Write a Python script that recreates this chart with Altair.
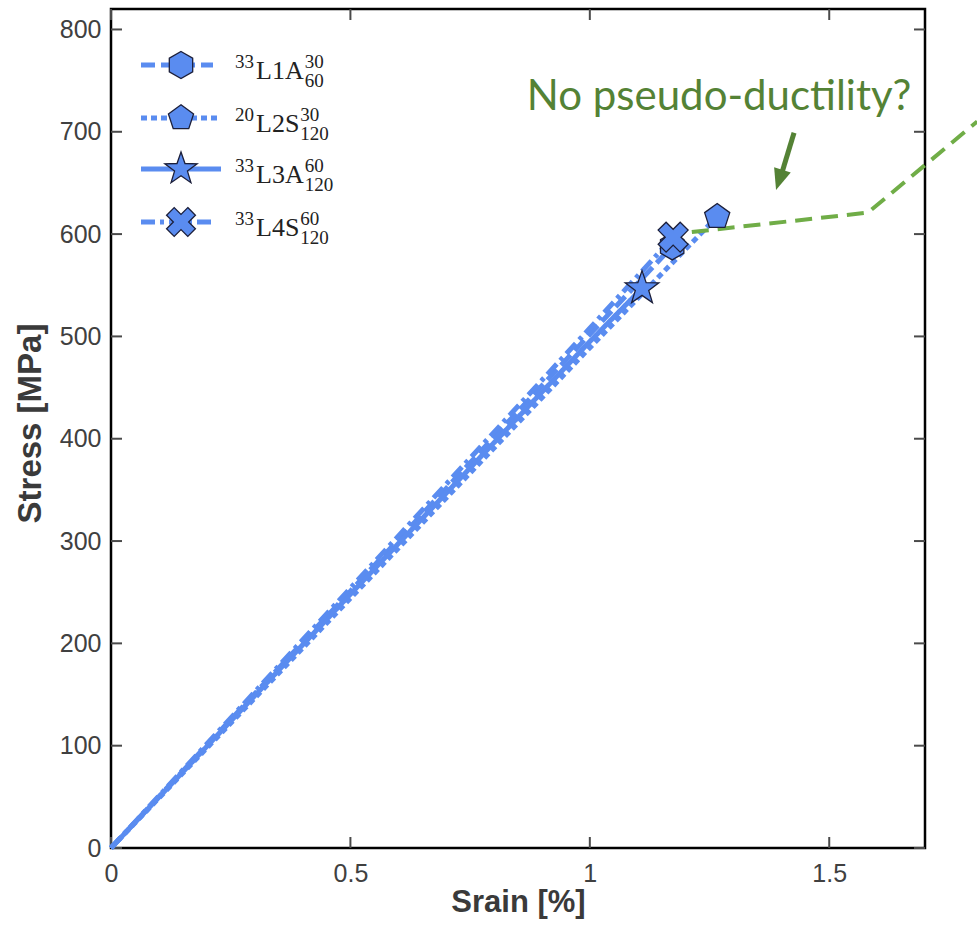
import math
import altair as alt
import pandas as pd

# ---- stress-strain traces (strain in %, stress in MPa) ----
names = ["L1A", "L2S", "L3A", "L4S"]
strain_L1A = [0.0, 0.5, 1.0, 1.172]
stress_L1A = [0, 251, 502, 588]
strain_L2S = [0.0, 0.5, 1.0, 1.266]
stress_L2S = [0, 244, 489, 617]
strain_L3A = [0.0, 0.5, 1.0, 1.109]
stress_L3A = [0, 248, 495, 547]
strain_L4S = [0.0, 0.5, 1.0, 1.174]
stress_L4S = [0, 254, 508, 597]

# legend label pieces: pre-superscript, body, superscript, subscript
label_pre = ["33", "20", "33", "33"]
label_body = ["L1A", "L2S", "L3A", "L4S"]
label_sup = ["30", "30", "60", "60"]
label_sub = ["60", "120", "120", "120"]

# expected pseudo-ductile response and its note
ductile_strain = [1.213, 1.581, 1.809]
ductile_stress = [602, 621, 710]
note_text = "No pseudo-ductility?"
note_strain = [1.27]
note_stress = [721]
arrow_strain = [1.4265, 1.3993]
arrow_stress = [699, 657]
arrow_tip_strain = [1.3889]
arrow_tip_stress = [643]

x_ticks = [0, 0.5, 1, 1.5]
y_ticks = [0, 100, 200, 300, 400, 500, 600, 700, 800]

W, H = 814, 839
BLUE = "#5a8cf0"
EDGE = "#1c1f3a"
GREEN_LINE = "#70ad47"
GREEN_TEXT = "#548235"
AXIS_TXT = "#404040"
SANS = "Liberation Sans"
SERIF = "Liberation Serif"


def poly_path(pts):
    return "M" + "L".join(f"{x:.4f},{y:.4f}" for x, y in pts) + "Z"


hexagon = poly_path([(math.sin(math.radians(a)), -math.cos(math.radians(a)))
                     for a in range(0, 360, 60)])
pentagon = poly_path([(math.sin(math.radians(a)), -math.cos(math.radians(a)))
                      for a in range(0, 360, 72)])
star = poly_path([((1.0 if k % 2 == 0 else 0.40) * math.sin(math.radians(36 * k)),
                   -(1.0 if k % 2 == 0 else 0.40) * math.cos(math.radians(36 * k)))
                  for k in range(10)])
w = 0.36
plus = [(-w, -1), (w, -1), (w, -w), (1, -w), (1, w), (w, w), (w, 1), (-w, 1),
        (-w, w), (-1, w), (-1, -w), (-w, -w)]
r2 = math.sqrt(0.5)
cross_x = poly_path([((x - y) * r2, (x + y) * r2) for x, y in plus])
arrow_head = "M0,0L-0.45,-1.1L0.45,-1.1Z"

series = [
    dict(name="L1A", sx=strain_L1A, sy=stress_L1A, dash=[14, 6], shape=hexagon, size=729, lsize=729),
    dict(name="L2S", sx=strain_L2S, sy=stress_L2S, dash=[6, 4], shape=pentagon, size=700, lsize=700),
    dict(name="L3A", sx=strain_L3A, sy=stress_L3A, dash=[1, 0], shape=star, size=1250, lsize=1150),
    dict(name="L4S", sx=strain_L4S, sy=stress_L4S, dash=[14, 5, 4, 5], shape=cross_x, size=970, lsize=900),
]

xs = alt.Scale(domain=[0, 1.7], nice=False, zero=False)
ys = alt.Scale(domain=[0, 820], nice=False)

x_enc = alt.X("strain:Q", scale=xs, axis=alt.Axis(
    values=x_ticks, format="~g", ticks=False, domain=False, grid=False,
    labelFont=SANS, labelFontSize=25, labelColor=AXIS_TXT, labelPadding=13,
    labelFlush=False, title="Srain [%]", titleFont=SANS, titleFontSize=31,
    titleFontWeight="bold", titleColor="#3a3a3a", titlePadding=1))
y_enc = alt.Y("stress:Q", scale=ys, axis=alt.Axis(
    values=y_ticks, ticks=False, domain=False, grid=False,
    labelFont=SANS, labelFontSize=25, labelColor=AXIS_TXT, labelPadding=10,
    labelFlush=False, title="Stress [MPa]", titleFont=SANS, titleFontSize=33,
    titleFontWeight="bold", titleColor="#3a3a3a", titlePadding=12, titleY=414))

layers = []

# inward tick marks on all four sides
ytick_df = pd.DataFrame({"stress": y_ticks})
xtick_df = pd.DataFrame({"strain": x_ticks})
tick_style = dict(color="#4a4a4a", strokeWidth=2)
layers.append(alt.Chart(ytick_df).mark_rule(**tick_style).encode(
    y=y_enc, x=alt.value(0), x2=alt.value(11)))
layers.append(alt.Chart(ytick_df).mark_rule(**tick_style).encode(
    y=y_enc, x=alt.value(W - 11), x2=alt.value(W)))
layers.append(alt.Chart(xtick_df).mark_rule(**tick_style).encode(
    x=x_enc, y=alt.value(H), y2=alt.value(H - 11)))
layers.append(alt.Chart(xtick_df).mark_rule(**tick_style).encode(
    x=x_enc, y=alt.value(0), y2=alt.value(11)))

# curves
for s in series:
    df = pd.DataFrame({"strain": s["sx"], "stress": s["sy"]})
    layers.append(alt.Chart(df).mark_line(
        color=BLUE, strokeWidth=5, strokeDash=s["dash"], strokeCap="butt").encode(
        x=x_enc, y=y_enc))

# expected pseudo-ductile continuation
duct_df = pd.DataFrame({"strain": ductile_strain, "stress": ductile_stress})
layers.append(alt.Chart(duct_df).mark_line(
    color=GREEN_LINE, strokeWidth=4, strokeDash=[17, 9], clip=False).encode(
    x=x_enc, y=y_enc))

# failure markers at the last point of each curve
for s in series:
    df = pd.DataFrame({"strain": [s["sx"][-1]], "stress": [s["sy"][-1]]})
    layers.append(alt.Chart(df).mark_point(
        shape=s["shape"], size=s["size"], filled=True, fill=BLUE, fillOpacity=1,
        stroke=EDGE, strokeWidth=1.3, opacity=1).encode(x=x_enc, y=y_enc))

# note and arrow
note_df = pd.DataFrame({"strain": note_strain, "stress": note_stress, "t": [note_text]})
layers.append(alt.Chart(note_df).mark_text(
    font="Lato", fontSize=42, color=GREEN_TEXT, align="center",
    baseline="alphabetic").encode(x=x_enc, y=y_enc, text="t:N"))
arrow_df = pd.DataFrame({"strain": [arrow_strain[0]], "stress": [arrow_stress[0]],
                         "strain2": [arrow_strain[1]], "stress2": [arrow_stress[1]]})
layers.append(alt.Chart(arrow_df).mark_rule(
    color=GREEN_TEXT, strokeWidth=5, strokeCap="butt").encode(
    x=x_enc, y=y_enc, x2="strain2:Q", y2="stress2:Q"))
tip_df = pd.DataFrame({"strain": arrow_tip_strain, "stress": arrow_tip_stress})
layers.append(alt.Chart(tip_df).mark_point(
    shape=arrow_head, size=1500, filled=True, fill=GREEN_TEXT, fillOpacity=1,
    strokeWidth=0, angle=17.5, opacity=1).encode(x=x_enc, y=y_enc))

# legend
times_w = {"L": 0.611, "1": 0.5, "2": 0.5, "3": 0.5, "4": 0.5, "A": 0.722, "S": 0.556}
row_y = [56, 109, 160, 213]
line_end = [102, 110, 110, 102]
BODY_FS, SCRIPT_FS = 26, 19
TXT = "#222222"
for i, s in enumerate(series):
    ry = row_y[i]
    one = pd.DataFrame({"pre": [label_pre[i]], "body": [label_body[i]],
                        "sup": [label_sup[i]], "sub": [label_sub[i]]})
    layers.append(alt.Chart(one).mark_rule(
        color=BLUE, strokeWidth=5, strokeDash=s["dash"], strokeCap="butt").encode(
        x=alt.value(30), x2=alt.value(line_end[i]), y=alt.value(ry)))
    layers.append(alt.Chart(one).mark_point(
        shape=s["shape"], size=s["lsize"],
        filled=True, fill=BLUE, fillOpacity=1, stroke=EDGE, strokeWidth=1.3,
        opacity=1).encode(x=alt.value(70), y=alt.value(ry)))
    base_y = ry + 14
    body_w = sum(times_w[c] for c in label_body[i]) * BODY_FS
    layers.append(alt.Chart(one).mark_text(
        font=SERIF, fontSize=SCRIPT_FS, color=TXT, align="right",
        baseline="alphabetic").encode(
        x=alt.value(143), y=alt.value(base_y - 11), text="pre:N"))
    layers.append(alt.Chart(one).mark_text(
        font=SERIF, fontSize=BODY_FS, color=TXT, align="left",
        baseline="alphabetic").encode(
        x=alt.value(145), y=alt.value(base_y), text="body:N"))
    layers.append(alt.Chart(one).mark_text(
        font=SERIF, fontSize=SCRIPT_FS, color=TXT, align="left",
        baseline="alphabetic").encode(
        x=alt.value(146 + body_w), y=alt.value(base_y - 11), text="sup:N"))
    layers.append(alt.Chart(one).mark_text(
        font=SERIF, fontSize=SCRIPT_FS, color=TXT, align="left",
        baseline="alphabetic").encode(
        x=alt.value(146 + body_w), y=alt.value(base_y + 8), text="sub:N"))

chart = alt.layer(*layers).properties(
    width=W, height=H,
    autosize=alt.AutoSizeParams(type="none"),
    padding={"left": 111, "top": 9, "right": 52, "bottom": 80},
).configure_view(stroke="black", strokeWidth=2.5)

chart.save("out.html", embed_options={"renderer": "svg", "actions": False})
